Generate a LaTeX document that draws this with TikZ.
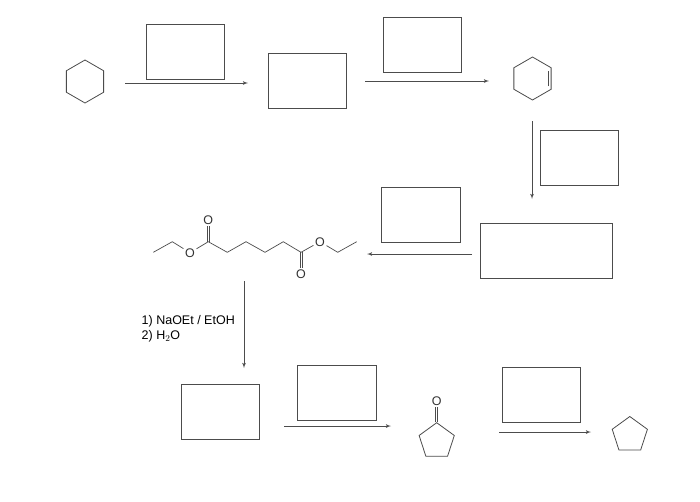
\documentclass[tikz,border=0pt]{standalone}
\usepackage{fontspec}
\setmainfont{Liberation Sans}
\usetikzlibrary{shapes.geometric, arrows, positioning, calc}

\begin{document}
\begin{tikzpicture}[x=1pt, y=-1pt, font=\fontsize{12.5}{15}\selectfont]
\tikzstyle{answer} = [rectangle, draw=black!70, minimum width=78.5pt, minimum height=55pt, inner sep=0pt, line width=0.8pt]
\tikzstyle{ring} = [regular polygon, draw=black!70, inner sep=0pt, line width=0.8pt]
\tikzstyle{atom} = [inner sep=1.5pt, text=black!80]
\tikzstyle{bond} = [draw=black!70, line width=0.7pt]
\tikzstyle{line} = [draw=black!70, -latex', line width=0.8pt]

\useasboundingbox (0,0) rectangle (700,501);
\fill [white] (0,0) rectangle (700,501);

% empty answer boxes
\node (boxa) [answer] at (185.5,51.5) {};
\node (boxb) [answer] at (307.5,81) {};
\node (boxc) [answer] at (422.5,44.5) {};
\node (boxd) [answer] at (579.5,158) {};
\node (boxe) [answer] at (421,214.5) {};
\node (boxf) [answer, minimum width=132.5pt] at (546.5,250.5) {};
\node (boxg) [answer] at (220.5,411.5) {};
\node (boxh) [answer] at (337,392.5) {};
\node (boxi) [answer] at (541.5,395) {};

% rings
\node (hexane) [ring, regular polygon sides=6, shape border rotate=-30, minimum size=43pt] at (85,81.5) {};
\node (hexene) [ring, regular polygon sides=6, shape border rotate=-30, minimum size=43pt] at (532.5,78.5) {};
\draw [bond] ($(hexene.corner 6)+(-2.8,-3)$) -- ($(hexene.corner 1)+(-2.8,3)$);
\node (ketone) [ring, regular polygon sides=5, minimum size=37pt] at (436.7,441.2) {};
\node (ketoneo) [atom] at (436.7,401) {O};
\draw [bond, transform canvas={xshift=1pt}] (ketone.corner 1) -- (ketoneo);
\draw [bond, transform canvas={xshift=-1pt}] (ketone.corner 1) -- (ketoneo);
\node (pentane) [ring, regular polygon sides=5, minimum size=37pt] at (629.8,435) {};

% diester
\coordinate (ca) at (153.3,252.3);
\coordinate (cb) at (172.3,241.7);
\node (oa) [atom] at (190,252.7) {O};
\coordinate (cc) at (208.3,241.7);
\node (ob) [atom] at (208.3,220) {O};
\coordinate (cd) at (227.3,252.3);
\coordinate (ce) at (246,241.7);
\coordinate (cf) at (265,252.3);
\coordinate (cg) at (283.3,241.7);
\coordinate (ch) at (301,252.3);
\node (oc) [atom] at (301,274.5) {O};
\node (od) [atom] at (320,241.7) {O};
\coordinate (ci) at (337.7,252.3);
\coordinate (cj) at (356.7,241.7);
\draw [bond] (ca) -- (cb) -- (oa) -- (cc) -- (cd) -- (ce) -- (cf) -- (cg) -- (ch) -- (od) -- (ci) -- (cj);
\draw [bond, transform canvas={xshift=1pt}] (cc) -- (ob);
\draw [bond, transform canvas={xshift=-1pt}] (cc) -- (ob);
\draw [bond, transform canvas={xshift=1pt}] (ch) -- (oc);
\draw [bond, transform canvas={xshift=-1pt}] (ch) -- (oc);

% reagents
\node (reagent) [anchor=north west, inner sep=0pt, align=left] at (141.5,315) {1) NaOEt / EtOH\\2) H$_2$O};

% arrows
\coordinate (aa) at (125,83);
\coordinate (ab) at (248,83);
\coordinate (ba) at (365,81);
\coordinate (bb) at (489,81);
\coordinate (ca2) at (532,121);
\coordinate (cb2) at (532,199);
\coordinate (da) at (472,254);
\coordinate (db) at (367,254);
\coordinate (ea) at (244,281);
\coordinate (eb) at (244,368);
\coordinate (fa) at (284,426);
\coordinate (fb) at (391,426);
\coordinate (ga) at (499,432);
\coordinate (gb) at (591,432);
\draw [line] (aa) -- (ab);
\draw [line] (ba) -- (bb);
\draw [line] (ca2) -- (cb2);
\draw [line] (da) -- (db);
\draw [line] (ea) -- (eb);
\draw [line] (fa) -- (fb);
\draw [line] (ga) -- (gb);
\end{tikzpicture}
\end{document}
